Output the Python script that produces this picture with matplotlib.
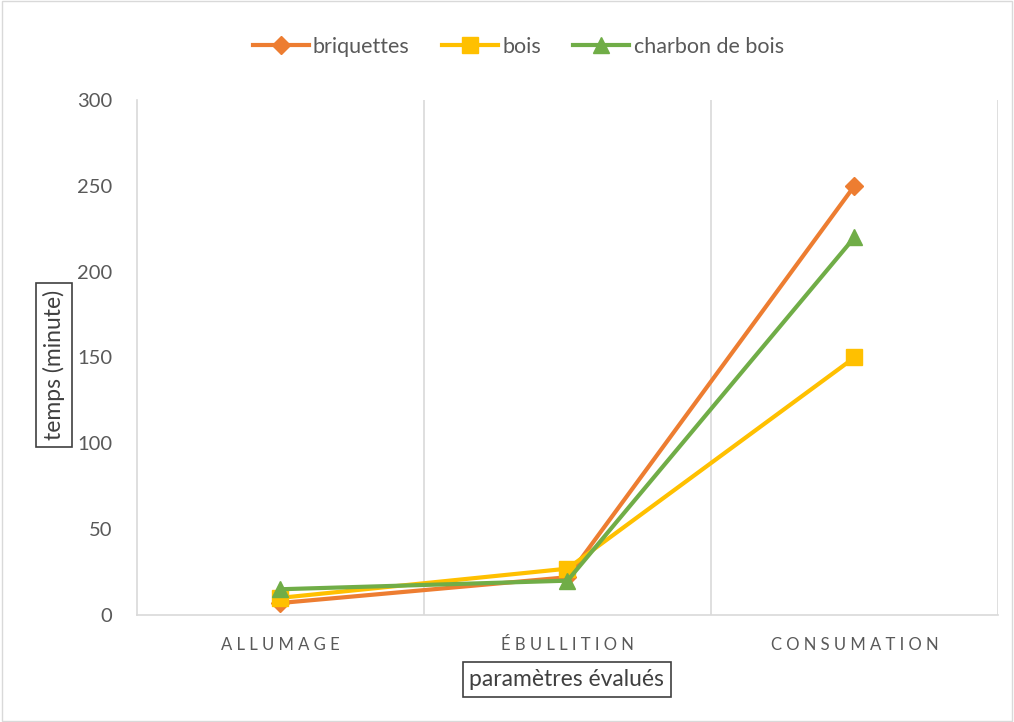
import matplotlib.pyplot as plt
import numpy as np

plt.rcParams['font.family'] = ['Lato', 'DejaVu Sans']

categories = ['ALLUMAGE', 'ÉBULLITION', 'CONSUMATION']
briquettes = [7, 22, 250]
bois = [10, 27, 150]
charbon = [15, 20, 220]

x = np.arange(len(categories))

fig = plt.figure(figsize=(10.14, 7.22), dpi=100)
ax = fig.add_axes([0.1351, 0.1482, 0.8491, 0.7133])

ax.plot(x, briquettes, color='#ED7D31', lw=3, marker='D', ms=9, label='briquettes', zorder=3)
ax.plot(x, bois, color='#FFC000', lw=3, marker='s', ms=11, label='bois', zorder=3)
ax.plot(x, charbon, color='#70AD47', lw=3, marker='^', ms=12, label='charbon de bois', zorder=4)

ax.set_xlim(-0.5, 2.5)
ax.set_ylim(0, 300)
ax.set_yticks(np.arange(0, 301, 50))
ax.set_xticks(x, [' '.join(c) for c in categories])

# vertical gridlines between categories
for b in [0.5, 1.5, 2.5]:
    ax.axvline(b, color='#D9D9D9', lw=1.2, zorder=1)

for s in ['top', 'right']:
    ax.spines[s].set_visible(False)
ax.spines['bottom'].set_color('#D9D9D9')
ax.spines['bottom'].set_linewidth(1.2)
ax.spines['left'].set_color('#D9D9D9')
ax.spines['left'].set_linewidth(1.2)

ax.tick_params(axis='both', length=0, colors='#595959')
ax.tick_params(axis='y', labelsize=14.5, pad=18)
ax.tick_params(axis='x', labelsize=12, pad=16)

box = dict(boxstyle='square,pad=0.3', fc='white', ec='#404040', lw=1.2)
fig.text(0.0535, 0.495, 'temps (minute)', rotation=90, ha='center', va='center',
         fontsize=16.5, color='#404040', bbox=box)
fig.text(0.559, 0.059, 'paramètres évalués', ha='center', va='center',
         fontsize=16.5, color='#404040', bbox=box)

fig.legend(loc='center', bbox_to_anchor=(0.511, 0.935), ncol=3, frameon=False,
           fontsize=15.5, labelcolor='#595959', handlelength=2.6, columnspacing=1.5,
           handletextpad=0.2)

# light border round the chart area
fig.patches.append(plt.Rectangle((0.002, 0.002), 0.996, 0.996, transform=fig.transFigure,
                                 fill=False, ec='#D9D9D9', lw=1))

fig.savefig('out.png', dpi=100)
